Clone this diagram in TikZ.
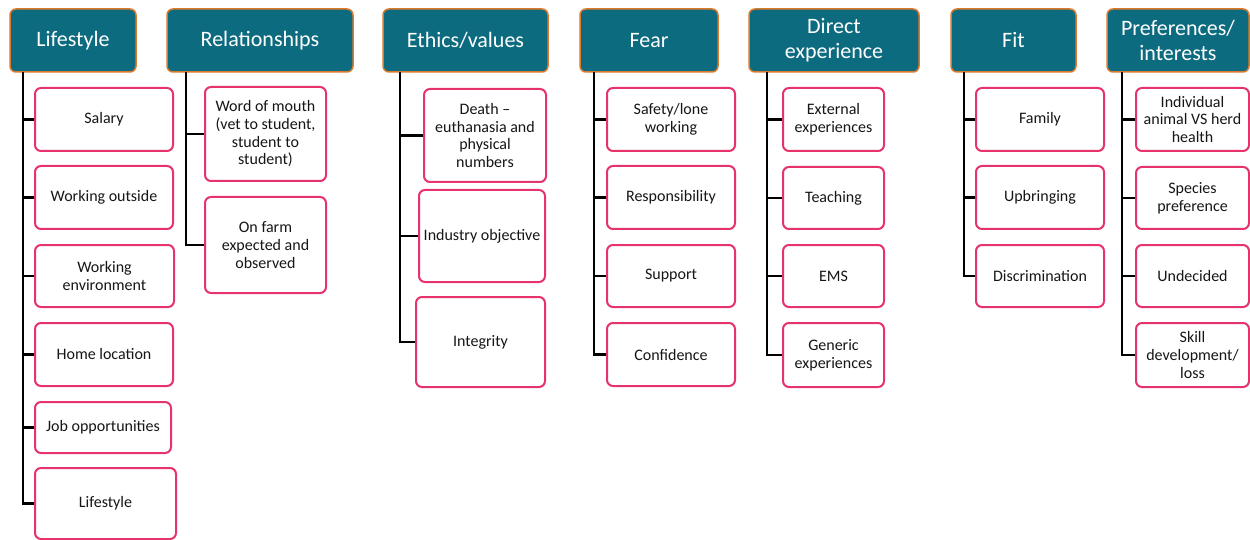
\documentclass[tikz,border=0pt]{standalone}
\usepackage{fontspec}
\setmainfont{Carlito}
\definecolor{hdrfill}{HTML}{0D6B80}
\definecolor{hdrline}{HTML}{DA7A2C}
\definecolor{pinkline}{HTML}{E6336C}
\definecolor{txt}{HTML}{161616}
\tikzset{
  hdr/.style={draw=hdrline, line width=1.5pt, fill=hdrfill, rounded corners=6pt,
    text=white, align=center, inner sep=0pt,
    font=\fontsize{22}{25}\selectfont},
  cbox/.style={draw=pinkline, line width=2pt, fill=white, rounded corners=6pt,
    text=txt, align=center, inner sep=0pt,
    font=\fontsize{16}{17.7}\selectfont},
  conn/.style={draw=black, line width=2.2pt},
}
\newcommand\hb[6]{\node[hdr, minimum width={#4-#2}, minimum height={#5-#3}] (#1) at ({(#2+#4)/2},{(#3+#5)/2}) {#6};}
\newcommand\cb[6]{\node[cbox, minimum width={#4-#2}, minimum height={#5-#3}] (#1) at ({(#2+#4)/2},{(#3+#5)/2}) {#6};}
\begin{document}
\begin{tikzpicture}[x=1pt,y=-1pt]
\useasboundingbox (0,0) rectangle (1250,540);
% headers
\hb{h1}{10}{9}{136}{72}{Lifestyle}
\hb{h2}{167}{9}{353}{72}{Relationships}
\hb{h3}{383}{9}{548}{72}{Ethics/values}
\hb{h4}{580}{9}{718}{72}{Fear}
\hb{h5}{749}{9}{919}{72}{Direct\\experience}
\hb{h6}{951}{9}{1076}{72}{Fit}
\hb{h7}{1107}{9}{1249}{72}{Preferences/\\interests}
% trunk coordinates
\coordinate (v1) at (23,72);
\coordinate (v2) at (186,72);
\coordinate (v3) at (400,72);
\coordinate (v4) at (594,72);
\coordinate (v5) at (767,72);
\coordinate (v6) at (964,72);
\coordinate (v7) at (1122,72);
% Lifestyle
\cb{a1}{35}{88}{173}{151}{Salary}
\cb{a2}{35}{166}{173}{229}{Working outside}
\cb{a3}{35}{245}{174}{307}{Working\\environment}
\cb{a4}{35}{323}{173}{386}{Home location}
\cb{a5}{35}{402}{171}{453}{Job opportunities}
\cb{a6}{35}{468}{176}{539}{Lifestyle}
% Relationships
\cb{b1}{205}{87}{326}{181}{Word of mouth\\(vet to student,\\student to\\student)}
\cb{b2}{205}{197}{326}{293}{On farm\\expected and\\observed}
% Ethics
\cb{c1}{424}{89}{546}{182}{Death --\\euthanasia and\\physical\\numbers}
\cb{c2}{419}{190}{545}{282}{Industry objective}
\cb{c3}{416}{297}{545}{387}{Integrity}
% Fear
\cb{d1}{607}{88}{735}{151}{Safety/lone\\working}
\cb{d2}{607}{166}{735}{229}{Responsibility}
\cb{d3}{607}{245}{735}{307}{Support}
\cb{d4}{607}{323}{735}{386}{Confidence}
% Direct experience
\cb{e1}{783}{88}{884}{151}{External\\experiences}
\cb{e2}{783}{167}{884}{229}{Teaching}
\cb{e3}{783}{245}{884}{307}{EMS}
\cb{e4}{783}{323}{884}{387}{Generic\\experiences}
% Fit
\cb{f1}{976}{88}{1104}{151}{Family}
\cb{f2}{976}{166}{1104}{229}{Upbringing}
\cb{f3}{976}{245}{1104}{307}{Discrimination}
% Preferences
\cb{g1}{1136}{88}{1249}{151}{Individual\\animal VS herd\\health}
\cb{g2}{1136}{167}{1249}{229}{Species\\preference}
\cb{g3}{1136}{245}{1249}{307}{Undecided}
\cb{g4}{1136}{323}{1249}{387}{Skill\\development/\\loss}
% connectors
\draw[conn] (v1) |- (a6.west);
\foreach \n in {a1,a2,a3,a4,a5} \draw[conn] (v1 |- \n.west) -- (\n.west);
\draw[conn] (v2) |- (b2.west);
\draw[conn] (v2 |- b1.west) -- (b1.west);
\draw[conn] (v3) |- (c3.west);
\foreach \n in {c1,c2} \draw[conn] (v3 |- \n.west) -- (\n.west);
\draw[conn] (v4) |- (d4.west);
\foreach \n in {d1,d2,d3} \draw[conn] (v4 |- \n.west) -- (\n.west);
\draw[conn] (v5) |- (e4.west);
\foreach \n in {e1,e2,e3} \draw[conn] (v5 |- \n.west) -- (\n.west);
\draw[conn] (v6) |- (f3.west);
\foreach \n in {f1,f2} \draw[conn] (v6 |- \n.west) -- (\n.west);
\draw[conn] (v7) |- (g4.west);
\foreach \n in {g1,g2,g3} \draw[conn] (v7 |- \n.west) -- (\n.west);
\end{tikzpicture}
\end{document}
